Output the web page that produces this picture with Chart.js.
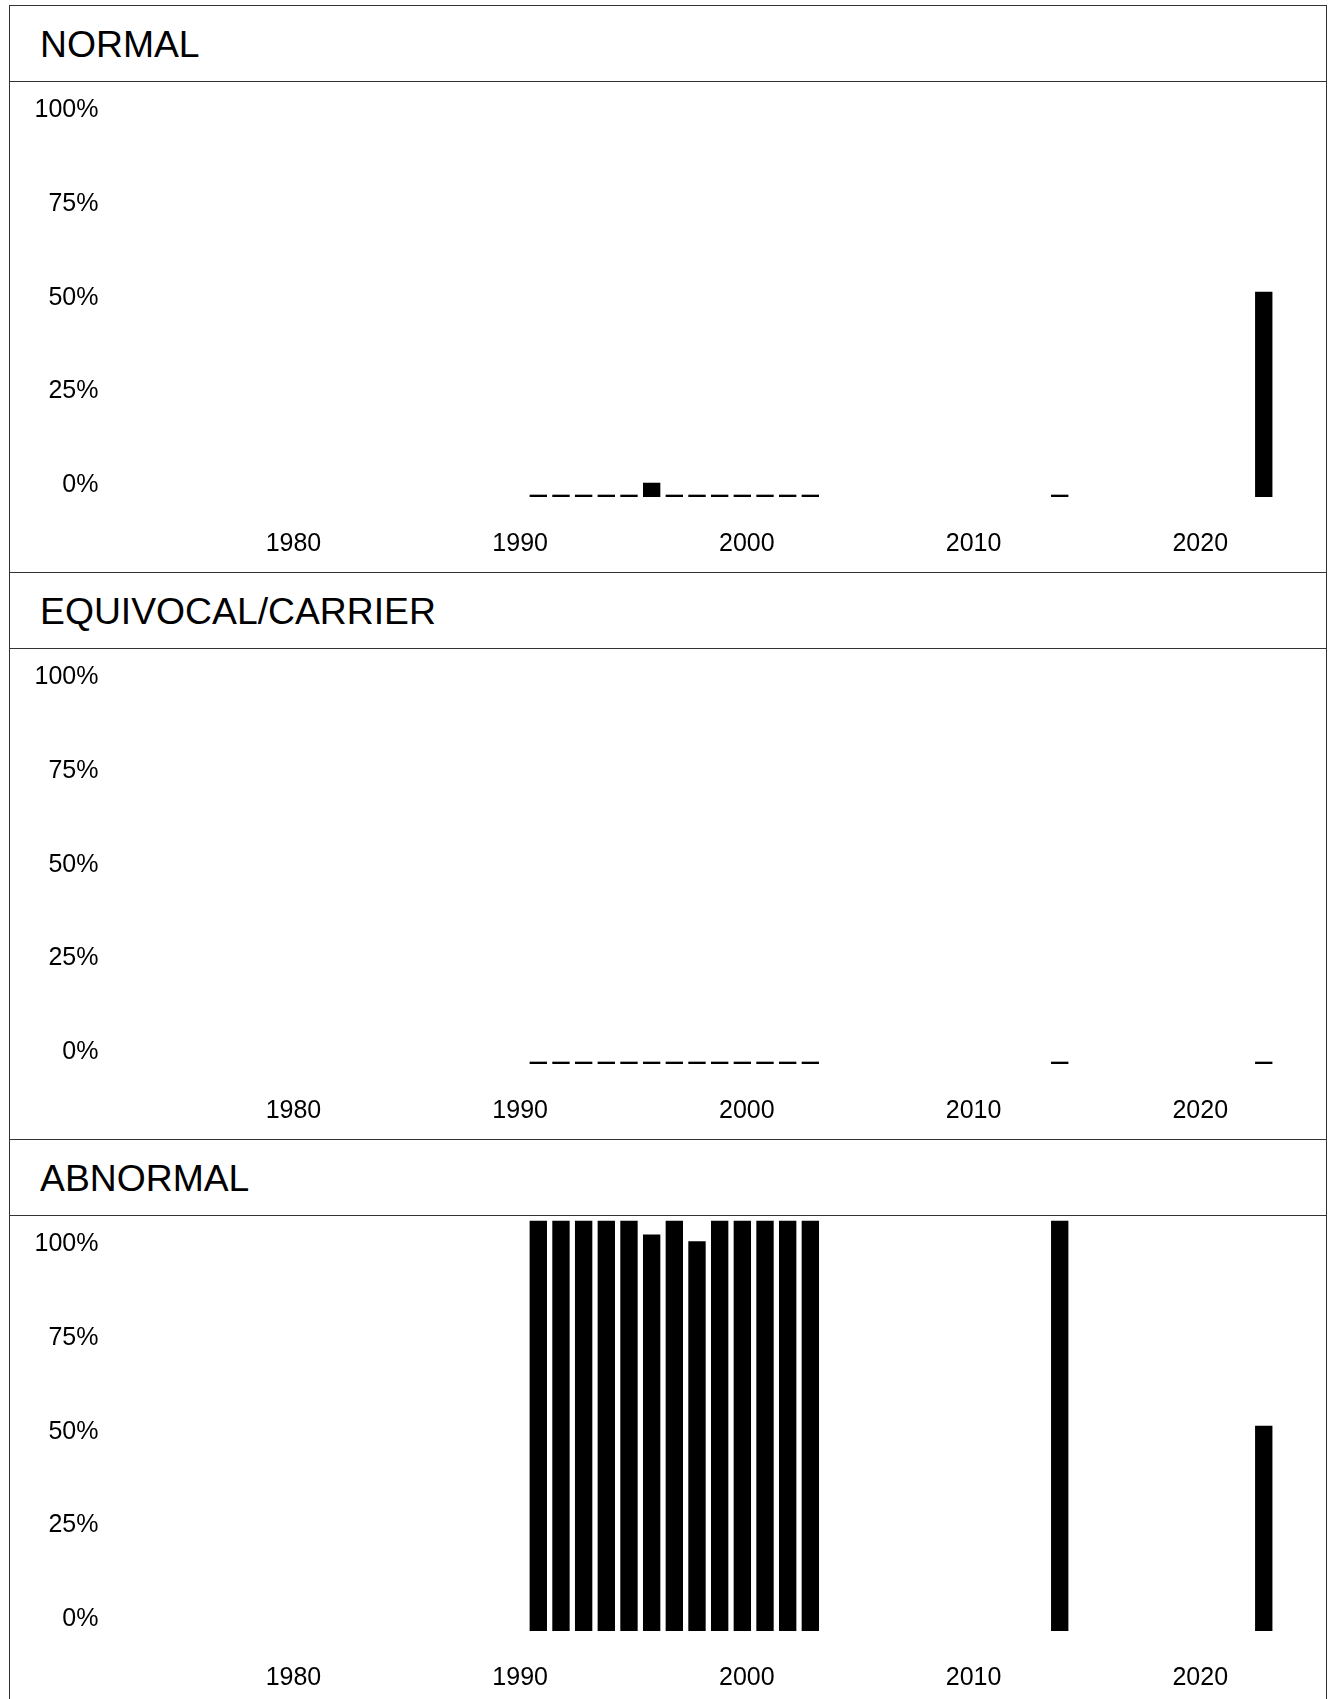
<!DOCTYPE html>
<html>
<head>
<meta charset="utf-8">
<title>Hasil per tahun</title>
<script src="https://cdn.jsdelivr.net/npm/chart.js@4.4.1/dist/chart.umd.min.js"></script>
<style>
    html, body { margin: 0; padding: 0; background: #fff; overflow: hidden; }
    body { width: 1332px; height: 1699px; position: relative; font-family: "Liberation Sans", Arial, sans-serif; }
    .panel {
        position: absolute; left: 9px; width: 1318px; height: 568px;
        box-sizing: border-box;
        border: 1px solid #333; border-bottom: none;
    }
    .head {
        height: 76px; line-height: 75px; padding-top: 1px; box-sizing: border-box;
        border-bottom: 1px solid #333;
        padding-left: 30px; font-size: 37.3px; color: #000;
    }
    .body canvas { display: block; }
</style>
</head>
<body>

<div class="panel" style="top:5px">
    <div class="head">NORMAL</div>
    <div class="body"><canvas id="chartNormal" width="1316" height="490"></canvas></div>
</div>
<div class="panel" style="top:572px">
    <div class="head">EQUIVOCAL/CARRIER</div>
    <div class="body"><canvas id="chartEquivocal" width="1316" height="490"></canvas></div>
</div>
<div class="panel" style="top:1139px">
    <div class="head">ABNORMAL</div>
    <div class="body"><canvas id="chartAbnormal" width="1316" height="490"></canvas></div>
</div>

<script>
// =====================================================================
// DATA
// =====================================================================

const years = [1991, 1992, 1993, 1994, 1995, 1996, 1997, 1998, 1999, 2000, 2001, 2002, 2003, 2014, 2023];
const normalPct = [0, 0, 0, 0, 0, 3.4, 0, 0, 0, 0, 0, 0, 0, 0, 50];
const equivocalPct = [0, 0, 0, 0, 0, 0, 0, 0, 0, 0, 0, 0, 0, 0, 0];
const abnormalPct = [100, 100, 100, 100, 100, 96.6, 100, 95, 100, 100, 100, 100, 100, 100, 50];

const yTickValues = [0, 25, 50, 75, 100];
const xTickValues = [1980, 1990, 2000, 2010, 2020];

// Rentang skala: bar dan label sedikit bergeser satu sama lain di gambar asli
const BAR_X_MIN = 1972.107, BAR_X_MAX = 2025.746;
const LABEL_X_MIN = 1971.907, LABEL_X_MAX = 2025.546;
const BAR_Y_MAX = 101.22;
const LABEL_Y_MIN = -3.204, LABEL_Y_MAX = 107.61;

const FONT = { family: '"Liberation Sans", Arial, sans-serif', size: 25, lineHeight: 1.2 };

// =====================================================================
// CHART
// =====================================================================

function renderPanel(canvasId, values) {
    const ctx = document.getElementById(canvasId);
    if (!ctx) return null;

    return new Chart(ctx, {
        type: 'bar',
        data: {
            datasets: [{
                data: years.map((y, i) => ({ x: y, y: values[i] })),
                backgroundColor: '#000',
                borderWidth: 0,
                barThickness: 16.7,
                minBarLength: 2,
                xAxisID: 'x',
                yAxisID: 'y',
            }],
        },
        options: {
            responsive: false,
            animation: false,
            events: [],
            layout: { padding: 0 },
            plugins: { legend: { display: false }, tooltip: { enabled: false } },
            scales: {
                // skala tersembunyi untuk posisi bar
                x: { type: 'linear', display: false, offset: false, grid: { offset: false }, min: BAR_X_MIN, max: BAR_X_MAX },
                y: { type: 'linear', display: false, min: 0, max: BAR_Y_MAX },
                // skala yang terlihat, hanya untuk label
                xl: {
                    type: 'linear', position: 'bottom', axis: 'x', offset: false,
                    min: LABEL_X_MIN, max: LABEL_X_MAX,
                    grid: { display: false, drawTicks: false, offset: false },
                    border: { display: false },
                    afterBuildTicks: s => { s.ticks = xTickValues.map(v => ({ value: v })); },
                    afterFit: s => { s.height = 75; s.paddingLeft = 0; s.paddingRight = 0; },
                    ticks: { color: '#000', font: FONT, padding: 32, maxRotation: 0, autoSkip: false, callback: v => String(v) },
                },
                yl: {
                    type: 'linear', position: 'left', axis: 'y',
                    min: LABEL_Y_MIN, max: LABEL_Y_MAX,
                    grid: { display: false, drawTicks: false },
                    border: { display: false },
                    afterBuildTicks: s => { s.ticks = yTickValues.map(v => ({ value: v })); },
                    afterFit: s => { s.width = 100; s.paddingTop = 0; s.paddingBottom = 0; },
                    ticks: { color: '#000', font: FONT, padding: 11.5, autoSkip: false, callback: v => v + '%' },
                },
            },
        },
    });
}

renderPanel('chartNormal', normalPct);
renderPanel('chartEquivocal', equivocalPct);
renderPanel('chartAbnormal', abnormalPct);
</script>
</body>
</html>
